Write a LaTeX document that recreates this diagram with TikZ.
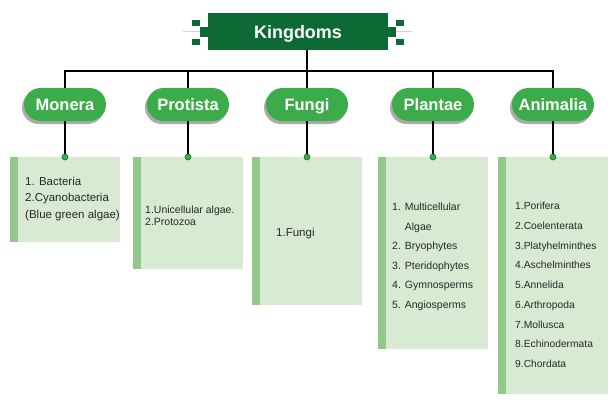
\documentclass[tikz,border=0pt]{standalone}
\usepackage{fontspec}
\setmainfont{Liberation Sans}
\usetikzlibrary{shapes.misc,shadows}
\definecolor{ttlgreen}{RGB}{14,106,52}
\definecolor{pillgreen}{RGB}{60,171,74}
\definecolor{leafgreen}{RGB}{217,234,211}
\definecolor{stripgreen}{RGB}{146,200,138}
\definecolor{txtgray}{RGB}{40,40,40}
\tikzset{
  ttl/.style={fill=ttlgreen, text=white, font=\fontsize{18}{20}\selectfont\bfseries,
    minimum width=180pt, minimum height=37pt, inner sep=0pt,
    text height=13.5pt, text depth=0pt},
  pill/.style={rounded rectangle, fill=pillgreen, text=white,
    font=\fontsize{16.5}{18}\selectfont\bfseries, minimum width=82pt,
    minimum height=33pt, inner sep=0pt, text height=12pt, text depth=0pt,
    drop shadow={shadow xshift=-2pt, shadow yshift=-3pt, fill=black!55, opacity=0.6}},
  leaf/.style={anchor=north, fill=leafgreen, minimum width=110pt, inner sep=0pt,
    path picture={\fill[stripgreen] (path picture bounding box.north west)
      rectangle ([xshift=8pt]path picture bounding box.south west);}},
  link/.style={line width=1.8pt, black},
  dot/.style={fill=pillgreen, draw=ttlgreen, line width=0.6pt},
  txt/.style={anchor=base west, align=left, inner sep=0pt, text=txtgray},
}
\begin{document}
\begin{tikzpicture}[x=1pt, y=-1pt]
    \useasboundingbox (0,0) rectangle (616,404);

    % Title
    \node[ttl] (title) at (298,31.5) {Kingdoms};
    \draw[gray!35, line width=0.5pt] (title.west) -- ++(-25,0);
    \draw[gray!35, line width=0.5pt] (title.east) -- ++(24,0);
    \foreach \s in {-1,1} {
      \fill[ttlgreen] ([shift={(\s*90,-4)}]title.center) rectangle ([shift={(\s*98,6)}]title.center);
      \fill[ttlgreen] ([shift={(\s*98,-11)}]title.center) rectangle ([shift={(\s*106,-5)}]title.center);
      \fill[ttlgreen] ([shift={(\s*98,7.5)}]title.center) rectangle ([shift={(\s*106,13.5)}]title.center);
    }

    % Kingdoms
    \foreach \n/\x/\t in {kmon/65/Monera, kpro/188/Protista, kfun/307/Fungi,
                          kpla/433/Plantae, kani/553/Animalia} {
      \node[pill] (\n) at (\x,104.5) {\t};
    }

    % Bus
    \coordinate (bus) at (0,71);
    \draw[link] (title.south -| kfun.north) -- (kfun.north);
    \draw[link] (kmon.north) |- (bus -| kani.north) -- (kani.north);
    \foreach \n in {kpro, kpla} {
      \draw[link] (bus -| \n.north) -- (\n.north);
    }

    % Boxes
    \foreach \n/\x/\h in {bmon/65/85, bpro/188/112, bfun/307/148,
                          bpla/433/192, bani/553/237} {
      \node[leaf, minimum height=\h] (\n) at (\x,157) {};
    }
    \foreach \k/\b in {kmon/bmon, kpro/bpro, kfun/bfun, kpla/bpla, kani/bani} {
      \draw[link] (\k.south) -- (\b.north);
      \filldraw[dot] (\b.north) circle (3pt);
    }

    % Lists (anchored at the baseline of the last line)
    \node[txt, font=\fontsize{11.5}{16.8}\selectfont] (tmon) at (25,218.6)
         {1. Bacteria\\2.Cyanobacteria\\(Blue green algae)};
    \node[txt, font=\fontsize{10.5}{12}\selectfont] (tpro) at (145,225)
         {1.Unicellular algae.\\2.Protozoa};
    \node[txt, font=\fontsize{11.5}{14}\selectfont] (tfun) at (276,236)
         {1.Fungi};
    \node[txt, font=\fontsize{10.5}{19.6}\selectfont] (tpla) at (392,308.5)
         {1. Multicellular\\\phantom{1. }Algae\\2. Bryophytes\\3. Pteridophytes\\4. Gymnosperms\\5. Angiosperms};
    \node[txt, font=\fontsize{10.3}{19.75}\selectfont] (tani) at (515,367.5)
         {1.Porifera\\2.Coelenterata\\3.Platyhelminthes\\4.Aschelminthes\\5.Annelida\\6.Arthropoda\\7.Mollusca\\8.Echinodermata\\9.Chordata};
\end{tikzpicture}
\end{document}
